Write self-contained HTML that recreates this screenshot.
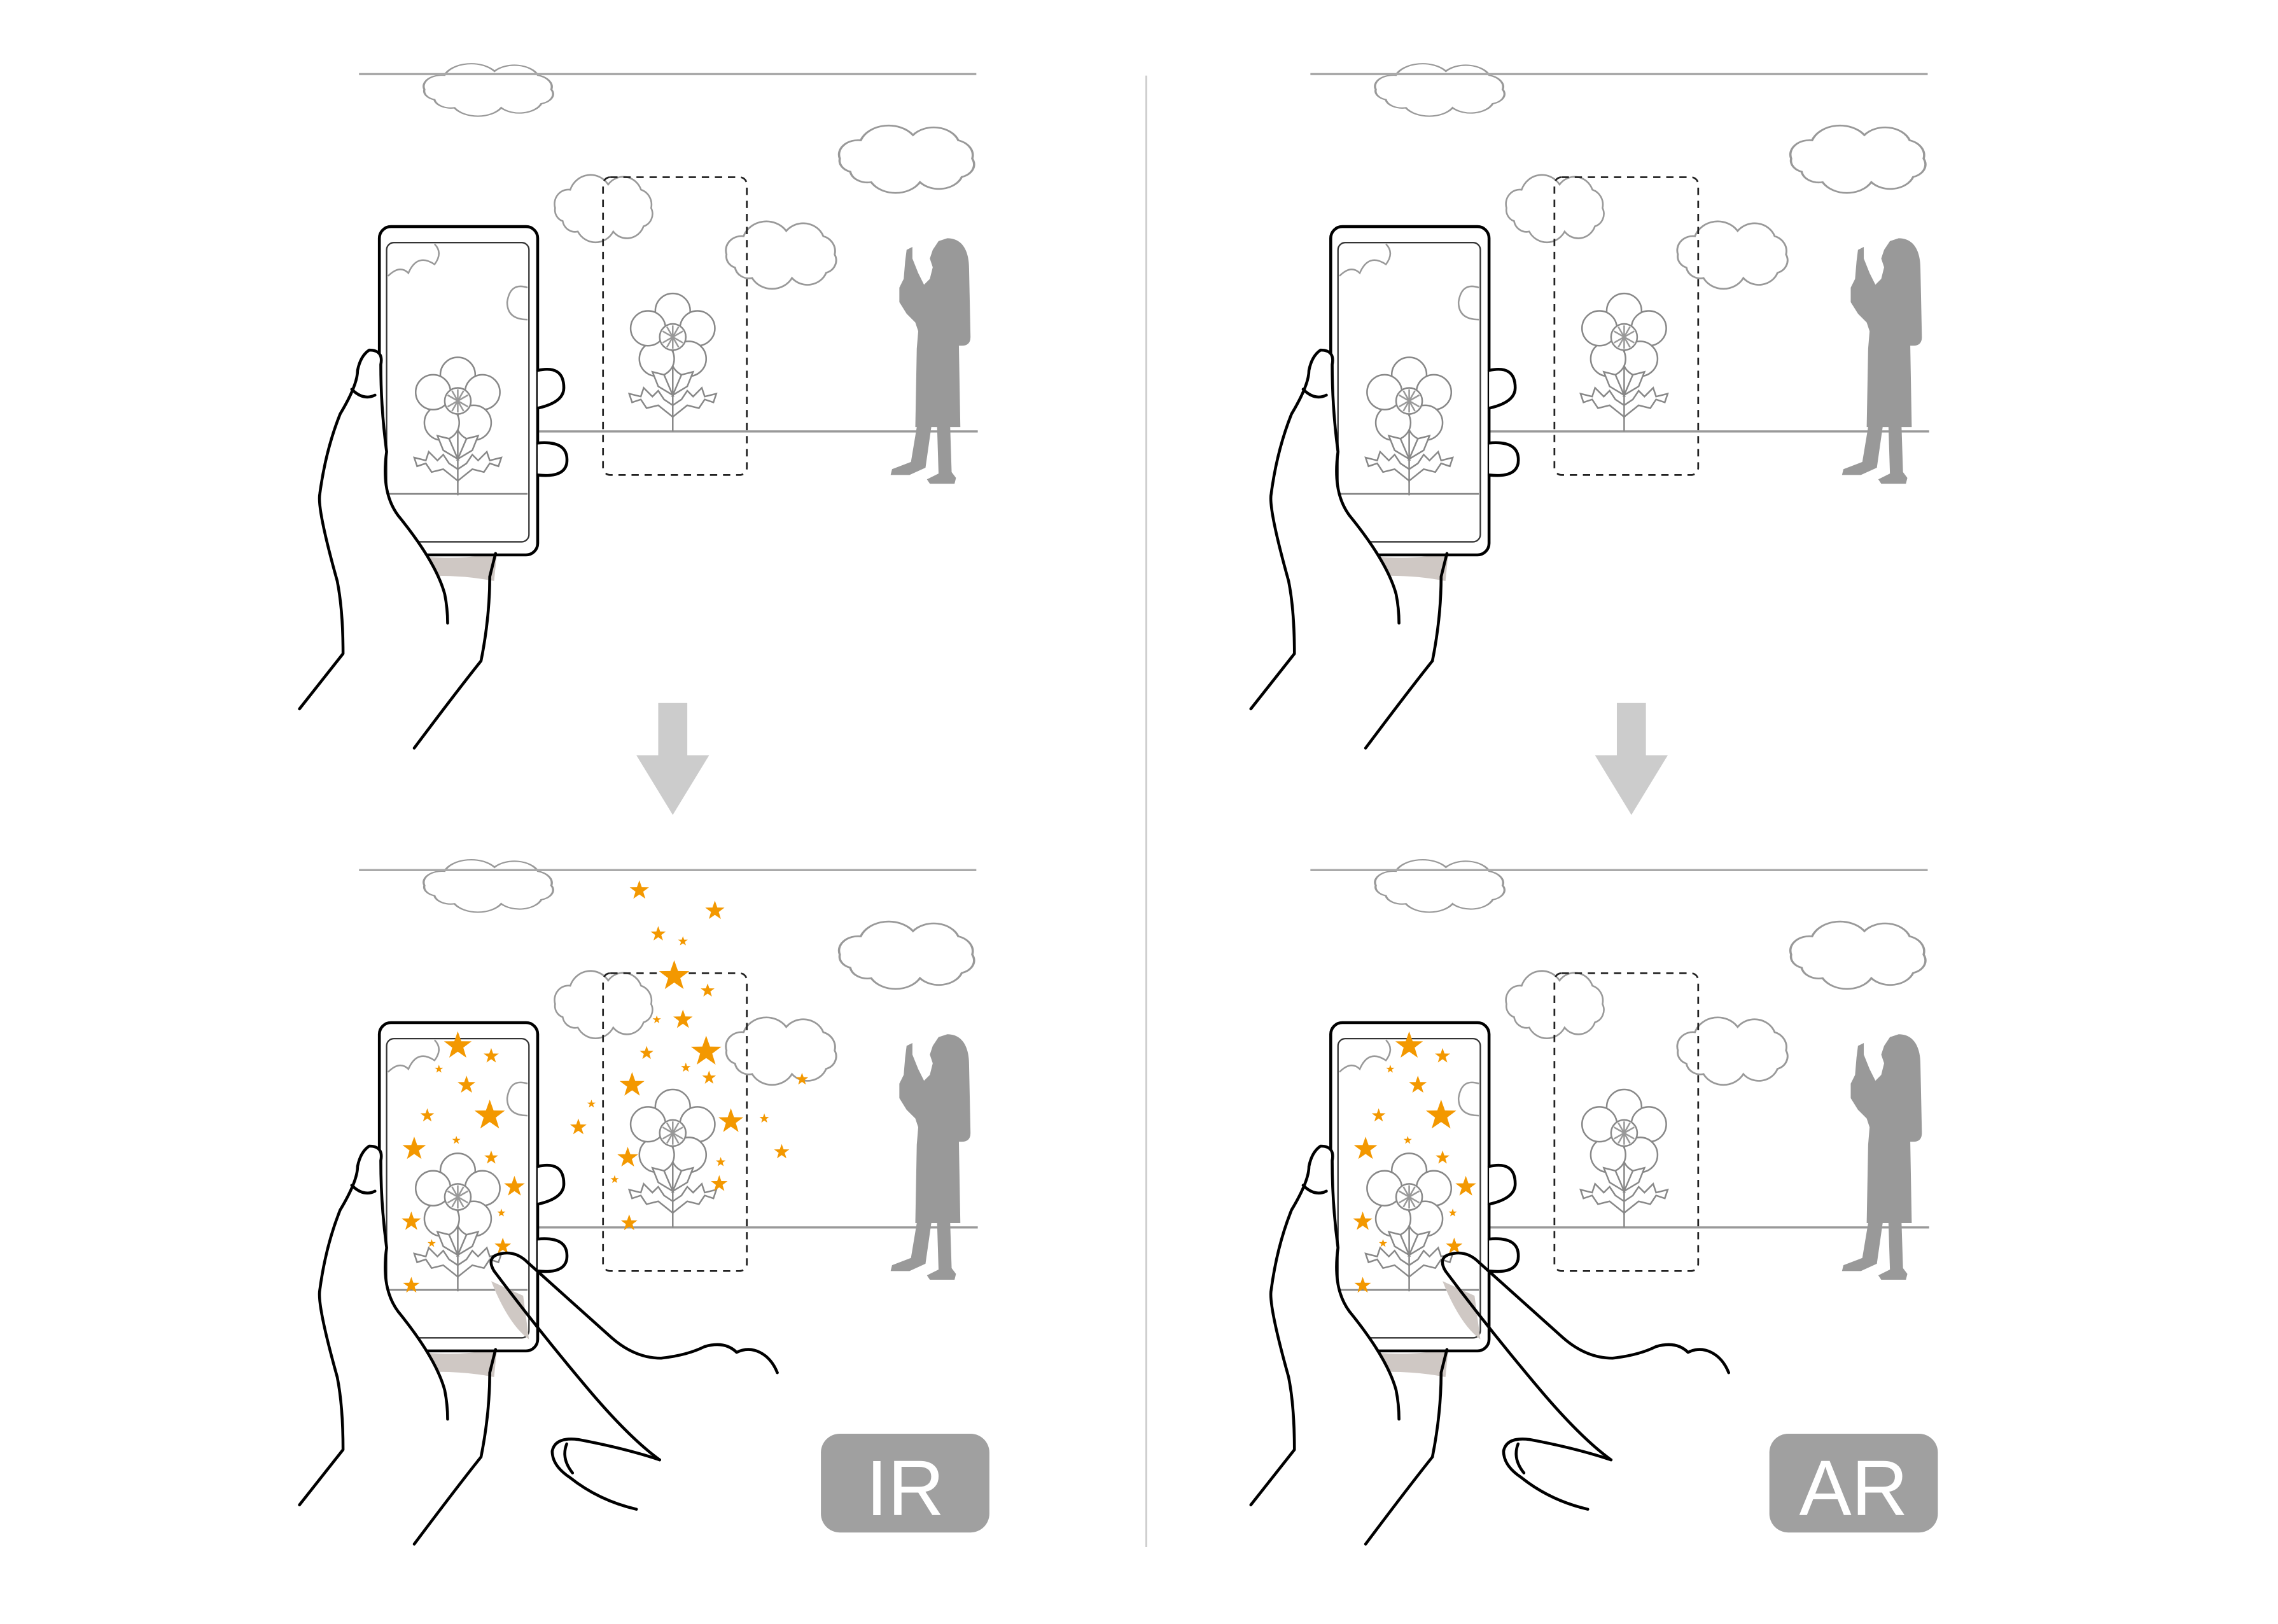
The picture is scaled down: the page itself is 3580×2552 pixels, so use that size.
<!DOCTYPE html>
<html><head><meta charset="utf-8"><style>html,body{margin:0;padding:0;background:#fff}svg{display:block}</style></head>
<body>
<svg xmlns="http://www.w3.org/2000/svg" xmlns:xlink="http://www.w3.org/1999/xlink" width="3580" height="2552" viewBox="0 0 1568 1118">
<defs>
<path id="cloud" d="M0,28 a11,11 0 0,1 12,-14 a17,17 0 0,1 30,-4 a15,15 0 0,1 26,4 a12,12 0 0,1 8,14 a10,10 0 0,1 -6,14 a14,14 0 0,1 -24,4 a16,16 0 0,1 -28,0 a10,10 0 0,1 -12,-8 a9,9 0 0,1 -6,-10 z" fill="#fff" stroke="#999" stroke-width="1.3"/>
<path id="star" d="M0,-10 L2.4,-3.2 9.5,-3.1 3.8,1.2 5.9,8.1 0,4 -5.9,8.1 -3.8,1.2 -9.5,-3.1 -2.4,-3.2 z" fill="#f39800"/>
<g id="flower" fill="#fff" stroke="#888" stroke-width="1.1">
 <line x1="0" y1="0" x2="0" y2="65"/>
 <circle cx="0" cy="-18" r="12"/><circle cx="17" cy="-6" r="12"/><circle cx="11" cy="15" r="12"/><circle cx="-11" cy="15" r="12"/><circle cx="-17" cy="-6" r="12"/>
 <circle cx="0" cy="0" r="9" fill="#fff"/>
 <path d="M0,0 l0,-8 M0,0 l7,-4 M0,0 l7,4 M0,0 l0,8 M0,0 l-7,4 M0,0 l-7,-4 M0,0 l4,-7 M0,0 l-4,-7 M0,0 l4,7 M0,0 l-4,7" stroke="#999"/>
 <path d="M0,55 l-10,-8 -8,2 -4,-6 -6,2 -2,-6 8,2 2,-6 6,6 4,-4 4,6 6,4z M0,55 l10,-8 8,2 4,-6 6,2 2,-6 -8,2 -2,-6 -6,6 -4,-4 -4,6 -6,4z"/>
 <path d="M0,40 l-10,-6 -4,-10 8,2z M0,40 l10,-6 4,-10 -8,2z"/>
</g>
<path id="woman" fill="#999" d="M652,164 C662,164 667,172 667,185 L668,232 Q668,238 662,238 L660,238 L661,294 L654,294 L655,325 L658,329 L657,333 L640,333 L638,330 L646,326 L645,294 L641,294 L637,322 L626,327 L613,327 L614,323 L627,318 L631,294 L630,294 L631,240 L632,228 L630,222 L624,216 L619,208 L619,198 L622,192 L623,180 L624,172 L628,170 L628,178 L632,188 L636,196 L640,192 L642,184 L640,178 L642,172 L646,166 Z"/>
<g id="panel">
 <use xlink:href="#cloud" transform="translate(292,42) scale(1.15,0.7)"/>
 <line x1="247" y1="51" x2="672" y2="51" stroke="#aaa" stroke-width="1.5"/>
 <use xlink:href="#cloud" transform="translate(578,84) scale(1.2,0.9)"/>
 <use xlink:href="#cloud" transform="translate(382,118) scale(0.87,0.9)"/>
 <use xlink:href="#cloud" transform="translate(500,150) scale(0.98,0.9)"/>
 <line x1="370" y1="297" x2="673" y2="297" stroke="#999" stroke-width="1.5"/>
 <rect x="415" y="122" width="99" height="205" rx="5" fill="none" stroke="#222" stroke-width="1.2" stroke-dasharray="5,4"/>
 <use xlink:href="#flower" transform="translate(463,232)"/>
 <use xlink:href="#woman"/>
 <path d="M272,380 q40,8 70,0 l-2,20 q-30,-6 -66,-2z" fill="#cfc8c4"/>
 <rect x="261" y="156" width="109" height="226" rx="8" fill="#fff" stroke="#000" stroke-width="2"/>
 <rect x="266" y="167" width="98" height="206" rx="5" fill="#fff" stroke="#333" stroke-width="1"/>
 <path d="M267,190 q8,-8 14,-2 q6,-14 18,-6 q6,-8 0,-14" fill="none" stroke="#999" stroke-width="1.1"/>
 <path d="M363,198 q-12,-4 -14,10 q0,12 14,12" fill="none" stroke="#999" stroke-width="1.1"/>
 <line x1="267" y1="340" x2="363" y2="340" stroke="#888" stroke-width="1.2"/>
 <use xlink:href="#flower" transform="translate(315,276)"/>
 <g fill="#fff" stroke="#000" stroke-width="2" stroke-linejoin="round" stroke-linecap="round">
  <path d="M370,255 q18,-4 18,12 q0,10 -18,14"/>
  <path d="M370,305 q22,-2 20,14 q-2,10 -20,8"/>
  <path d="M206,488 l30,-38 q0,-30 -4,-50 q-14,-50 -12,-60 q4,-30 14,-55 q12,-20 12,-30 q2,-10 8,-14 q10,0 8,10 q0,30 4,60 q-4,28 8,44 q26,32 32,54 q2,10 2,20"/>
  <path d="M242,268 q8,8 16,4" fill="none"/>
  <path d="M285,515 q30,-40 46,-60 q6,-30 6,-58 l4,-16" fill="none"/>
 </g>
</g>
<g id="stars1">
 <use xlink:href="#star" transform="translate(440,613) scale(0.7)"/>
 <use xlink:href="#star" transform="translate(492,627) scale(0.7)"/>
 <use xlink:href="#star" transform="translate(453,643) scale(0.55)"/>
 <use xlink:href="#star" transform="translate(470,648) scale(0.35)"/>
 <use xlink:href="#star" transform="translate(464,672) scale(1.1)"/>
 <use xlink:href="#star" transform="translate(487,682) scale(0.5)"/>
 <use xlink:href="#star" transform="translate(470,702) scale(0.7)"/>
 <use xlink:href="#star" transform="translate(452,702) scale(0.3)"/>
 <use xlink:href="#star" transform="translate(486,724) scale(1.1)"/>
 <use xlink:href="#star" transform="translate(445,725) scale(0.5)"/>
 <use xlink:href="#star" transform="translate(435,747) scale(0.9)"/>
 <use xlink:href="#star" transform="translate(472,735) scale(0.35)"/>
 <use xlink:href="#star" transform="translate(488,742) scale(0.5)"/>
 <use xlink:href="#star" transform="translate(552,743) scale(0.45)"/>
 <use xlink:href="#star" transform="translate(407,760) scale(0.3)"/>
 <use xlink:href="#star" transform="translate(398,776) scale(0.6)"/>
 <use xlink:href="#star" transform="translate(503,772) scale(0.9)"/>
 <use xlink:href="#star" transform="translate(526,770) scale(0.35)"/>
 <use xlink:href="#star" transform="translate(538,793) scale(0.55)"/>
 <use xlink:href="#star" transform="translate(432,797) scale(0.75)"/>
 <use xlink:href="#star" transform="translate(496,800) scale(0.35)"/>
 <use xlink:href="#star" transform="translate(495,815) scale(0.6)"/>
 <use xlink:href="#star" transform="translate(423,812) scale(0.3)"/>
 <use xlink:href="#star" transform="translate(433,842) scale(0.6)"/>
</g>
<g id="stars2">
 <use xlink:href="#star" transform="translate(315,720) scale(1)"/>
 <use xlink:href="#star" transform="translate(338,727) scale(0.55)"/>
 <use xlink:href="#star" transform="translate(302,736) scale(0.3)"/>
 <use xlink:href="#star" transform="translate(321,747) scale(0.65)"/>
 <use xlink:href="#star" transform="translate(337,768) scale(1.1)"/>
 <use xlink:href="#star" transform="translate(294,768) scale(0.5)"/>
 <use xlink:href="#star" transform="translate(285,791) scale(0.85)"/>
 <use xlink:href="#star" transform="translate(314,785) scale(0.3)"/>
 <use xlink:href="#star" transform="translate(338,797) scale(0.5)"/>
 <use xlink:href="#star" transform="translate(354,817) scale(0.75)"/>
 <use xlink:href="#star" transform="translate(283,841) scale(0.7)"/>
 <use xlink:href="#star" transform="translate(345,835) scale(0.3)"/>
 <use xlink:href="#star" transform="translate(297,856) scale(0.3)"/>
 <use xlink:href="#star" transform="translate(346,858) scale(0.6)"/>
 <use xlink:href="#star" transform="translate(283,885) scale(0.6)"/>
</g>
<g id="finger" fill="none" stroke="#000" stroke-width="2" stroke-linejoin="round" stroke-linecap="round">
 <path d="M338,882 q12,30 26,40 l-4,-30z" fill="#cfc8c4" stroke="none"/>
 <path d="M340,875 q-6,-10 5,-12 q10,-2 18,6 l58,52 q16,14 34,14 q18,-2 30,-8 q14,-4 22,4 q8,-4 16,0 q8,4 12,14"/>
 <path d="M340,875 q30,40 62,78 q30,36 52,52"/>
 <path d="M454,1005 q-24,-8 -56,-14 q-16,-2 -18,8 q0,10 12,18 q20,16 46,22"/>
 <path d="M390,994 q-4,10 4,20"/>
</g>
</defs>

<line x1="789" y1="52" x2="789" y2="1065" stroke="#ccc" stroke-width="1.2"/>

<use xlink:href="#panel"/>
<use xlink:href="#panel" transform="translate(655,0)"/>
<use xlink:href="#panel" transform="translate(0,548)"/>
<use xlink:href="#panel" transform="translate(655,548)"/>

<g fill="#ccc">
 <path d="M453,484 h20 v36 h15 l-25,41 -25,-41 h15z"/>
 <path d="M1113,484 h20 v36 h15 l-25,41 -25,-41 h15z"/>
</g>

<use xlink:href="#stars1"/>
<use xlink:href="#stars2"/>
<use xlink:href="#finger"/>
<use xlink:href="#stars2" transform="translate(655,0)"/>
<use xlink:href="#finger" transform="translate(655,0)"/>

<rect x="565" y="987" width="116" height="68" rx="13" fill="#a0a0a0"/>
<text x="623" y="1043" text-anchor="middle" font-family="'Liberation Sans', sans-serif" font-size="54" fill="#fff">IR</text>
<rect x="1218" y="987" width="116" height="68" rx="13" fill="#a0a0a0"/>
<text x="1276" y="1043" text-anchor="middle" font-family="'Liberation Sans', sans-serif" font-size="54" fill="#fff">AR</text>
</svg>
</body></html>
